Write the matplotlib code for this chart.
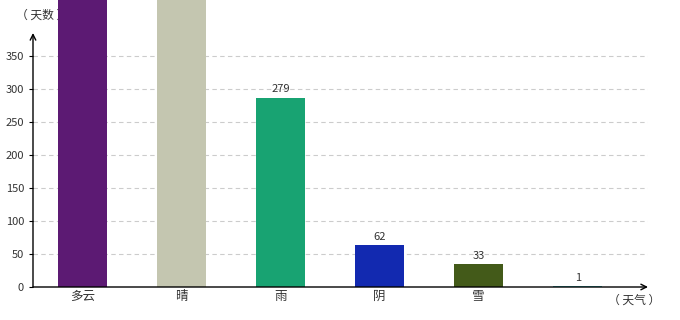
import numpy as np
import matplotlib
matplotlib.use("Agg")
import matplotlib.pyplot as plt

plt.rcParams['font.family'] = ['Noto Sans CJK SC', 'DejaVu Sans']

categories = ["多云", "晴", "雨", "阴", "雪", ""]
heights = [440, 440, 287, 63, 35, 1.5]
value_labels = ["", "", "279", "62", "33", "1"]
colors = ["#5c1a73", "#c4c6b0", "#18a372", "#1229b0", "#435a19", "#3fb0b5"]
yticks = [0, 50, 100, 150, 200, 250, 300, 350]

W, H = 680, 320
fig = plt.figure(figsize=(W / 100, H / 100), dpi=100)
ax = fig.add_axes([33 / W, 33 / H, (648 - 33) / W, (287 - 33) / H])

x = np.arange(len(categories))
bars = ax.bar(x, heights, width=0.5, color=colors, zorder=2)
for b in bars:
    b.set_clip_on(False)
for xi, h, lab in zip(x, heights, value_labels):
    if lab:
        ax.text(xi, h + 5, lab, ha="center", va="bottom", fontsize=8, color="#333333")

ax.set_xlim(-0.5, 5.71)
ax.set_ylim(0, 385)
ax.set_yticks(yticks)
ax.set_xticks(x)
ax.set_xticklabels(categories, fontsize=9, color="#333333")
ax.tick_params(axis="y", labelsize=8, labelcolor="#333333", length=3, width=0.8)
ax.tick_params(axis="x", length=0, pad=2)
for t in yticks[1:]:
    ax.axhline(t, color="#cccccc", lw=0.8, ls=(0, (4, 3)), zorder=1)

for s in ["top", "right", "left", "bottom"]:
    ax.spines[s].set_visible(False)

# axis lines with arrows
ax.annotate("", xy=(1.0, 0), xytext=(0, 0), xycoords="axes fraction",
            arrowprops=dict(arrowstyle="->", color="black", lw=1.0, shrinkA=0, shrinkB=0))
ax.annotate("", xy=(0, 1.0), xytext=(0, 0), xycoords="axes fraction",
            arrowprops=dict(arrowstyle="->", color="black", lw=1.0, shrinkA=0, shrinkB=0))

ax.text(42 / W, 1 - 15 / H, "（ 天数 ）", transform=fig.transFigure, ha="center", va="center",
        fontsize=8.5, color="#333333", zorder=1)
ax.text(634 / W, 1 - 300 / H, "（ 天气 ）", transform=fig.transFigure, ha="center", va="center",
        fontsize=8.5, color="#333333", zorder=1)

fig.savefig("out.png", dpi=100)
